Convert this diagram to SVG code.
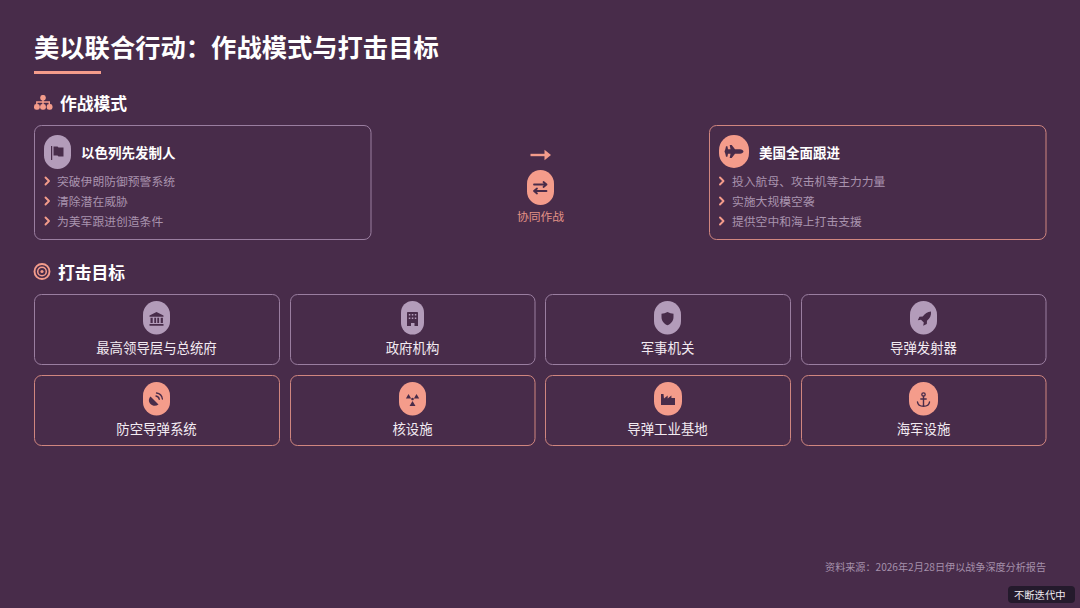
<svg xmlns="http://www.w3.org/2000/svg" width="1080" height="608" viewBox="0 0 1080 608">
<style>
text{font-family:"Noto Sans CJK SC","Noto Sans",sans-serif}
.title{font-size:25.3px;font-weight:700;fill:#fff}
.sec{font-size:16.8px;font-weight:700;fill:#fff}
.head{font-size:13.500px;font-weight:700;fill:#fff}
.li{font-size:11.800px;fill:#a993ae}
.lab{font-size:13.400px;fill:#f3ebf2;text-anchor:middle}
.cl{fill:none;stroke:#9a7ea0;stroke-width:1}
.cs{fill:none;stroke:#d0867f;stroke-width:1}
.pl{fill:#b39cba}
.ps{fill:#f49c8b}
.ic{fill:#482c4a}
.ics{fill:none;stroke:#482c4a;stroke-linecap:round;stroke-linejoin:round}
.chev{fill:none;stroke:#f49c8b;stroke-width:1.900;stroke-linecap:round;stroke-linejoin:round}
</style>
<rect width="1080" height="608" fill="#482c4a"/>
<g id="header">
<text class="title" x="34" y="57">美以联合行动：作战模式与打击目标</text>
<rect x="34" y="71" width="67" height="3" fill="#f49c8b"/>
</g>
<g id="section-mode">
<g fill="#f49c8b"><rect x="40.300" y="95" width="5.400" height="5.400" rx="2.200"/><rect x="34" y="104" width="5.800" height="5.800" rx="2.400"/><rect x="40.100" y="104" width="5.800" height="5.800" rx="2.400"/><rect x="46.700" y="104" width="5.800" height="5.800" rx="2.400"/></g>
<path d="M43 100v4M36.800 104v-2h12.500v2" fill="none" stroke="#f49c8b" stroke-width="1.400"/>
<text class="sec" x="60" y="110">作战模式</text>
</g>
<g id="node-israel">
<rect class="cl" x="34.500" y="125.500" width="336.500" height="114" rx="7"/>
<rect class="pl" x="44" y="135" width="27" height="34" rx="13.500"/>
<path class="ic" d="M51 146h1.200v14h-1.200zM53.500 146.500h4l1 1h5v9h-5l-1-1h-4z"/>
<text class="head" x="81" y="157.500">以色列先发制人</text>
<path class="chev" d="M45.500 177.500l3.500 3.500-3.500 3.500M45.500 197.500l3.500 3.500-3.500 3.500M45.500 217.500l3.500 3.500-3.500 3.500"/>
<text class="li" x="57" y="186">突破伊朗防御预警系统</text>
<text class="li" x="57" y="206">清除潜在威胁</text>
<text class="li" x="57" y="226">为美军跟进创造条件</text>
</g>
<g id="node-usa">
<rect class="cs" x="709.500" y="125.500" width="336.500" height="114" rx="7"/>
<rect class="ps" x="719" y="135" width="30" height="33" rx="15"/>
<path class="ic" d="M728 149.300h2.500l-.8-4.300h2l3.300 4.300h5c1.800 0 3.500 1.100 3.500 2.200s-1.700 2.200-3.500 2.200h-5l-3.300 4.300h-2l.8-4.300h-2.500l-.6 3h-1.400l-.6-2.700-.9-2.500.9-2.500.6-2.700h1.400z"/>
<text class="head" x="759" y="157.500">美国全面跟进</text>
<path class="chev" d="M720 177.500l3.500 3.500-3.500 3.500M720 197.500l3.500 3.500-3.500 3.500M720 217.500l3.500 3.500-3.500 3.500"/>
<text class="li" x="732" y="186">投入航母、攻击机等主力力量</text>
<text class="li" x="732" y="206">实施大规模空袭</text>
<text class="li" x="732" y="226">提供空中和海上打击支援</text>
</g>
<g id="connectors">
<path d="M530.500 155h16" fill="none" stroke="#f49c8b" stroke-width="2.400"/>
<path d="M544.500 149.800l6.500 5.200-6.500 5.200z" fill="#f49c8b"/>
</g>
<g id="node-joint">
<rect class="ps" x="527" y="170" width="27" height="35" rx="13.500"/>
<path class="ics" stroke-width="1.800" d="M534 184.500h12.500M543.500 182l3 2.500-3 2.500M546.500 191h-12.500M537 188.500l-3 2.500 3 2.500"/>
<text x="540.500" y="221" font-size="11.800" fill="#e39286" text-anchor="middle">协同作战</text>
</g>
<g id="section-targets">
<circle cx="42" cy="271.500" r="7.500" fill="none" stroke="#f49c8b" stroke-width="1.900"/>
<circle cx="42" cy="271.500" r="4.300" fill="none" stroke="#f49c8b" stroke-width="1.500"/>
<circle cx="42" cy="271.500" r="1.600" fill="#f49c8b"/>
<text class="sec" x="58" y="279">打击目标</text>
</g>
<g id="target-1">
<rect class="cl" x="34.500" y="294.500" width="245" height="70" rx="7"/>
<rect class="pl" x="143" y="301" width="27" height="33.500" rx="13.500"/>
<path class="ic" d="M156.500 312l7 3.500v1.300h-14v-1.300zM150.500 317.800h2.200v5.200h-2.200zM154.300 317.800h1.800v5.200h-1.800zM157.300 317.800h1.800v5.200h-1.800zM160.700 317.800h2.200v5.200h-2.200zM149.500 324h14v1.800h-14z"/>
<text class="lab" x="156.500" y="353">最高领导层与总统府</text>
</g>
<g id="target-2">
<rect class="cl" x="290.500" y="294.500" width="244.500" height="70" rx="7"/>
<rect class="pl" x="401" y="301" width="23" height="33.500" rx="11.500"/>
<path class="ic" fill-rule="evenodd" d="M408 312h9c.6 0 1 .4 1 1v13h-3.500v-3h-3.500v3h-4v-13c0-.6.400-1 1-1zM408.800 314v1.500h1.500v-1.500zM411.800 314v1.500h1.500v-1.500zM414.800 314v1.500h1.500v-1.500zM408.800 317.500v1.500h1.500v-1.500zM411.800 317.500v1.500h1.500v-1.500zM414.800 317.500v1.500h1.500v-1.500z"/>
<text class="lab" x="412.500" y="353">政府机构</text>
</g>
<g id="target-3">
<rect class="cl" x="545.500" y="294.500" width="245" height="70" rx="7"/>
<rect class="pl" x="654" y="301" width="27" height="33.500" rx="13.500"/>
<path class="ic" d="M667.500 312c2 1 4 1.500 6 1.700v3.300c0 4-2.500 6.800-6 8.300-3.500-1.500-6-4.300-6-8.300v-3.300c2-.2 4-.7 6-1.700z"/>
<text class="lab" x="667.500" y="353">军事机关</text>
</g>
<g id="target-4">
<rect class="cl" x="801.500" y="294.500" width="244.500" height="70" rx="7"/>
<rect class="pl" x="910" y="301" width="27" height="33.500" rx="13.500"/>
<path class="ic" d="M931 311.500c.4 3.800-1 6.800-4 9.300l-.2 3.300-3.600 1.600.6-3.200-2.800-2.800-3.200.6 1.600-3.600 3.300-.2c2.500-3 4.500-4.600 8.300-5z"/>
<text class="lab" x="923.500" y="353">导弹发射器</text>
</g>
<g id="target-5">
<rect class="cs" x="34.500" y="375.500" width="245" height="70" rx="7"/>
<rect class="ps" x="143" y="382" width="27" height="33.500" rx="13.500"/>
<path class="ic" d="M150.500 396.500l8 8c-2.800 2-6 1.500-8-.5s-2.300-4.800 0-7.500z"/>
<path class="ics" stroke-width="1.300" d="M156 396c1.700.3 3 1.600 3.300 3.300M156.500 393c3.100.4 5.500 2.800 5.900 6"/>
<text class="lab" x="156.500" y="434">防空导弹系统</text>
</g>
<g id="target-6">
<rect class="cs" x="290.500" y="375.500" width="244.500" height="70" rx="7"/>
<rect class="ps" x="399" y="382" width="27" height="33.500" rx="13.500"/>
<path class="ic" d="M408.500 394l2.700 4.500h-5.300zM416.500 394l2.700 4.500h-5.300zM412.500 401l3 5h-6zM412.500 397.700a1.300 1.300 0 1 0 .01 0z"/>
<text class="lab" x="412.500" y="434">核设施</text>
</g>
<g id="target-7">
<rect class="cs" x="545.500" y="375.500" width="245" height="70" rx="7"/>
<rect class="ps" x="654" y="382" width="28" height="33.500" rx="14"/>
<path class="ic" d="M661 394h2.500l.5 4.500 3.700-3v3l3.700-3v2.500h3.600v7h-14z"/>
<text class="lab" x="667.500" y="434">导弹工业基地</text>
</g>
<g id="target-8">
<rect class="cs" x="801.500" y="375.500" width="244.500" height="70" rx="7"/>
<rect class="ps" x="909" y="382" width="29" height="33.500" rx="14.500"/>
<circle cx="923.500" cy="394.500" r="1.700" fill="none" stroke="#482c4a" stroke-width="1.300"/>
<path class="ics" stroke-width="1.400" d="M923.500 396.300v10M920.800 399h5.400M917.500 402c.3 2.800 2.800 4.300 6 4.300s5.700-1.500 6-4.300"/>
<text class="lab" x="923.500" y="434">海军设施</text>
</g>
<g id="footer">
<text x="1046" y="571" font-size="10.100" fill="#a590ab" text-anchor="end">资料来源：2026年2月28日伊以战争深度分析报告</text>
<rect x="1008" y="586" width="67" height="17" rx="4" fill="#241a2c"/>
<text x="1014" y="599" font-size="10.300" fill="#f0eaf0">不断迭代中</text>
</g>
</svg>
